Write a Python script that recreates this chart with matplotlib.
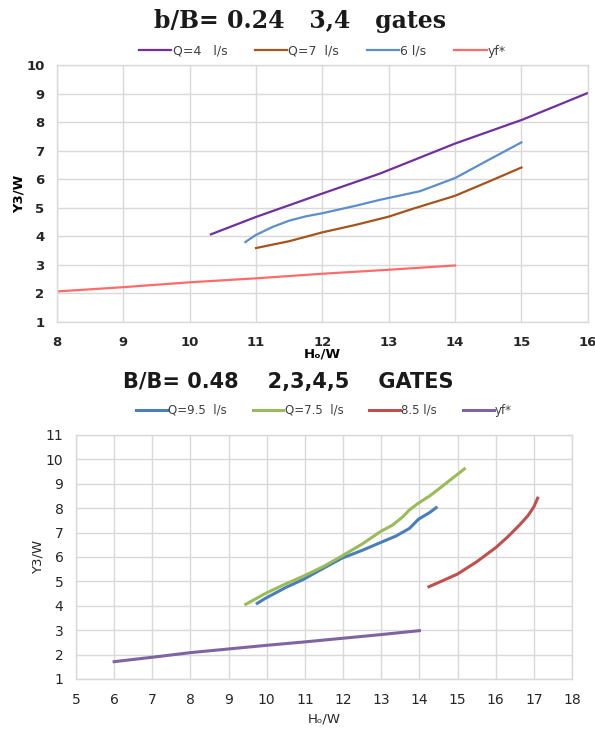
"""
two panels of Y3/W against Ho/W for the gate tests, values read off the original charts
"""
import matplotlib.pyplot as plt

# top panel, b/B = 0.24
top_q4_x = [10.32, 11.0, 12.0, 12.87, 14.0, 15.02, 16.0]
top_q4_y = [4.07, 4.68, 5.5, 6.2, 7.25, 8.09, 9.02]
top_q7_x = [11.0, 11.5, 12.0, 12.5, 13.0, 13.37, 14.0, 14.5, 15.0]
top_q7_y = [3.59, 3.83, 4.14, 4.4, 4.69, 4.97, 5.42, 5.91, 6.41]
top_q6_x = [10.84, 10.92, 11.0, 11.25, 11.5, 11.75, 12.0, 12.5, 12.87, 13.47, 14.0, 14.5, 15.0]
top_q6_y = [3.8, 3.93, 4.05, 4.33, 4.55, 4.7, 4.81, 5.07, 5.28, 5.58, 6.04, 6.67, 7.29]
top_yf_x = [8, 9, 10, 11, 12, 13, 14]
top_yf_y = [2.07, 2.22, 2.39, 2.53, 2.69, 2.83, 2.98]

# bottom panel, b/B = 0.48
bot_q95_x = [9.75, 9.97, 10.5, 10.97, 11.5, 11.97, 12.5, 12.98, 13.39, 13.74, 13.98, 14.27, 14.44]
bot_q95_y = [4.1, 4.31, 4.75, 5.09, 5.55, 5.95, 6.27, 6.59, 6.86, 7.17, 7.55, 7.82, 8.02]
bot_q75_x = [9.45, 9.97, 10.5, 10.97, 11.5, 11.97, 12.5, 12.98, 13.3, 13.57, 13.74, 13.97, 14.27, 14.7, 15.18]
bot_q75_y = [4.06, 4.51, 4.9, 5.22, 5.62, 6.04, 6.53, 7.04, 7.31, 7.65, 7.93, 8.2, 8.5, 9.02, 9.61]
bot_q85_x = [14.25, 14.6, 15.0, 15.5, 16.0, 16.3, 16.62, 16.85, 17.0, 17.1]
bot_q85_y = [4.78, 5.02, 5.3, 5.8, 6.38, 6.8, 7.3, 7.7, 8.05, 8.41]
bot_yf_x = [6, 7, 8, 9, 10, 11, 12, 13, 14]
bot_yf_y = [1.71, 1.89, 2.08, 2.23, 2.38, 2.52, 2.67, 2.82, 2.98]

top_xticks = list(range(8, 17))
top_yticks = list(range(1, 11))
bot_xticks = list(range(5, 19))
bot_yticks = list(range(1, 12))

GRID = '#d9d9d9'
TICK_TXT = '#262626'


def style_axes(ax, bold, size):
    """
    excel-like look: light grid, light frame, no tick marks
    """
    ax.grid(True, color=GRID, linewidth=1.0)
    ax.set_axisbelow(True)
    for spine in ax.spines.values():
        spine.set_color(GRID)
        spine.set_linewidth(1.0)
    ax.tick_params(length=0, labelsize=size, labelcolor=TICK_TXT)
    ax.tick_params(axis='x', pad=10)
    ax.tick_params(axis='y', pad=9)
    if bold:
        for lab in ax.get_xticklabels() + ax.get_yticklabels():
            lab.set_fontweight('bold')


def top_panel(fig):
    ax = fig.add_axes([0.0958, 0.5607, 0.892, 0.3506])
    ax.plot(top_q4_x, top_q4_y, color='#7030a0', lw=1.6, label='Q=4   l/s')
    ax.plot(top_q7_x, top_q7_y, color='#a5541c', lw=1.6, label='Q=7  l/s')
    ax.plot(top_q6_x, top_q6_y, color='#5b8fcb', lw=1.6, label='6 l/s')
    ax.plot(top_yf_x, top_yf_y, color='#ff6b6b', lw=1.6, label='yf*')
    ax.set_xlim(8, 16)
    ax.set_ylim(1, 10)
    ax.set_xticks(top_xticks)
    ax.set_yticks(top_yticks)
    style_axes(ax, True, 9.5)
    ax.set_ylabel('Y3/W', fontsize=9.5, fontweight='bold', labelpad=0)
    ax.set_xlabel('H\u2092/W', fontsize=9.5, fontweight='bold', labelpad=-1)
    ax.legend(loc='lower center', bbox_to_anchor=(0.5, 1.0), ncol=4, frameon=False,
              fontsize=9, handlelength=2.6, handletextpad=0.1, columnspacing=2.2,
              borderaxespad=0.2, labelcolor='#404040')
    fig.text(0.505, 0.972, 'b/B= 0.24   3,4   gates', ha='center', va='center',
             fontsize=17, fontweight='bold', family='DejaVu Serif', color='#1a1a1a')


def bottom_panel(fig):
    ax = fig.add_axes([0.1277, 0.0737, 0.8336, 0.3329])
    ax.plot(bot_q95_x, bot_q95_y, color='#4a7ebb', lw=2.2, label='Q=9.5  l/s')
    ax.plot(bot_q75_x, bot_q75_y, color='#9bbb59', lw=2.2, label='Q=7.5  l/s')
    ax.plot(bot_q85_x, bot_q85_y, color='#c0504d', lw=2.2, label='8.5 l/s')
    ax.plot(bot_yf_x, bot_yf_y, color='#8064a2', lw=2.2, label='yf*')
    ax.set_xlim(5, 18)
    ax.set_ylim(1, 11)
    ax.set_xticks(bot_xticks)
    ax.set_yticks(bot_yticks)
    style_axes(ax, False, 10)
    ax.set_ylabel('Y3/W', fontsize=9.5, color=TICK_TXT, labelpad=1)
    ax.set_xlabel('H\u2092/W', fontsize=9.5, color=TICK_TXT, labelpad=4)
    ax.legend(loc='lower center', bbox_to_anchor=(0.5, 1.045), ncol=4, frameon=False,
              fontsize=8.5, handlelength=2.6, handletextpad=0.1, columnspacing=2.2,
              borderaxespad=0.2, labelcolor='#404040')
    fig.text(0.485, 0.479, 'B/B= 0.48    2,3,4,5    GATES', ha='center', va='center',
             fontsize=15, fontweight='bold', color='#1a1a1a')


def main():
    fig = plt.figure(figsize=(5.95, 7.33), dpi=100)
    top_panel(fig)
    bottom_panel(fig)
    fig.savefig('out.png', dpi=100, facecolor='white')


if __name__ == '__main__':
    main()
